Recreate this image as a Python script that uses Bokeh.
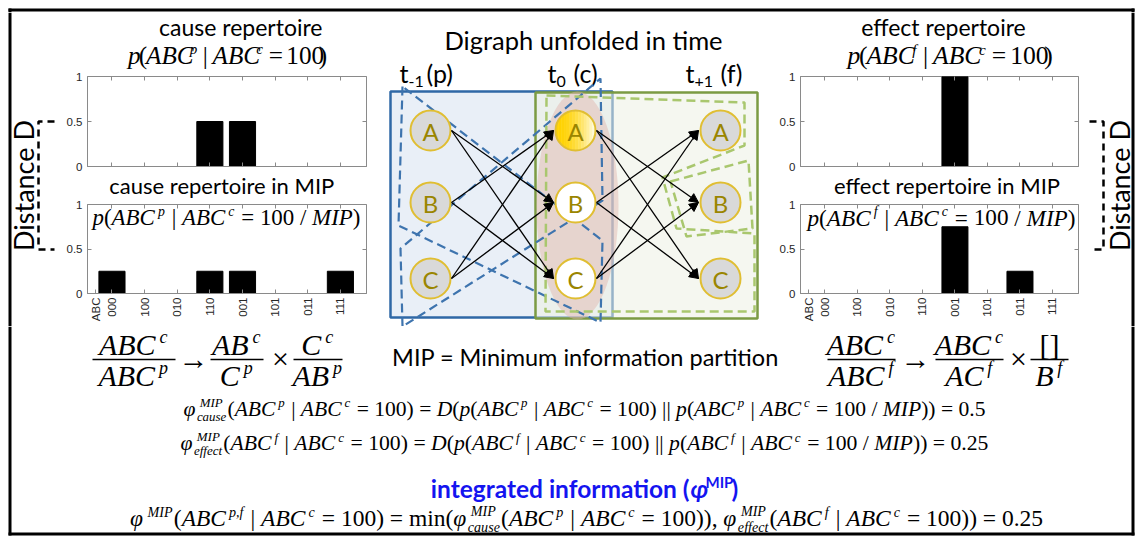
import math
import numpy as np
from bokeh.plotting import figure
from bokeh.models import Range1d, FixedTicker, LinearAxis, ColumnDataSource, Arrow, NormalHead
from bokeh.layouts import row, column
from bokeh.embed import file_html
from bokeh.resources import INLINE
from bokeh.core.properties import value

# ---------------- data ----------------
states = ["000", "100", "010", "110", "001", "101", "011", "111"]
state_header = "ABC"
cause_rep = [0, 0, 0, 0.5, 0.5, 0, 0, 0]
cause_rep_mip = [0.25, 0, 0, 0.25, 0.25, 0, 0, 0.25]
effect_rep = [0, 0, 0, 0, 1, 0, 0, 0]
effect_rep_mip = [0, 0, 0, 0, 0.75, 0, 0.25, 0]
prob_ticks = [0, 0.5, 1]
node_names = ["A", "B", "C"]
edges = [("A", "B"), ("A", "C"), ("B", "A"), ("B", "C"), ("C", "A"), ("C", "B")]
phi_cause = "0.5"
phi_effect = "0.25"
phi_mip = "0.25"

positions = list(range(1, len(states) + 1))

# ---------------- style ----------------
SANS = "Lato"
SERIF = "Liberation Serif"
TICK = "Liberation Sans"
GREY_AX = "#8a8a8a"
BLUE_LINE, BLUE_FILL, BLUE_DASH = "#2f68a6", "#e9eff7", "#3e74ae"
GREEN_LINE, GREEN_FILL, GREEN_DASH = "#7b9b43", "#edf1e4", "#a9c76e"
PINK = "#dfb1aa"
NODE_GREY, NODE_EDGE, NODE_TEXT = "#d9d9d9", "#e0be32", "#9a8500"

BX0, BX1, BY0, BY1 = 8, 1134, 8, 535
BT = 3
XLO, XHI = 0.25, 8.8
MID = 0.3   # distance from alphabetic baseline to the middle of the em box, in em

W_TOTAL, H_TOTAL = 1136, 536
TOP_Y0 = 12
TOP_H = 326


# ---------------- helpers ----------------
def canvas(x0, x1, y0, y1):
    p = figure(width=x1 - x0, height=y1 - y0, x_range=Range1d(x0, x1), y_range=Range1d(y1, y0),
               output_backend="svg", toolbar_location=None, min_border=0, title=None,
               x_axis_location=None, y_axis_location=None, outline_line_color=None)
    p.grid.visible = False
    p._box = (x0, x1, y0, y1)
    return p


def borders(p, sides):
    x0, x1, y0, y1 = p._box
    rects = []
    for s in sides:
        if s == "top":
            rects.append((BX0, BX1, BY0, BY0 + BT))
        if s == "bottom":
            rects.append((BX0, BX1, BY1 - BT, BY1))
        if s == "left":
            rects.append((BX0, BX0 + BT, BY0, BY1))
        if s == "right":
            rects.append((BX1 - BT, BX1, BY0, BY1))
    for l, r, t, b in rects:
        l, r = max(l, x0), min(r, x1)
        t, b = max(t, y0), min(b, y1)
        if r > l and b > t:
            p.quad(left=[l], right=[r], top=[t], bottom=[b], fill_color="black", line_color=None)


def txt(p, x, y, s, size, font=SANS, style="normal", color="black", align="center", angle=0.0):
    # (x, y) is the alphabetic baseline anchor; drawn with a middle baseline
    if angle:
        x = x - MID * size
    else:
        y = y - MID * size
    p.text(x=[x], y=[y], text=[s], text_font=value(font), text_font_size=value(f"{size}px"),
           text_font_style=style, text_color=color, text_align=align, text_baseline="middle",
           angle=angle)


W_ROMAN = {' ': 250, '(': 333, ')': 333, '=': 564, '|': 200, '/': 278, '.': 250, ',': 250,
           '[': 333, ']': 333, 'm': 778, 'i': 278, 'n': 500, '\u00d7': 564, '\u2192': 1000}
for d in "0123456789":
    W_ROMAN[d] = 500
W_ITALIC = {'A': 611, 'B': 611, 'C': 667, 'D': 722, 'I': 333, 'M': 833, 'P': 611, 'p': 500,
            'c': 444, 'f': 278, 'a': 500, 'u': 500, 's': 389, 'e': 444, 't': 278, 'i': 278,
            'm': 722, 'n': 500, 'o': 500, ',': 250, ' ': 250, '\u03c6': 620}


def tw(s, italic):
    table = W_ITALIC if italic else W_ROMAN
    return sum(table.get(ch, 500) for ch in s) / 1000.0


SCRIPT = 0.6
SUP_GAP = 0.13


def layout_tokens(tokens):
    items = []

    def add_words(s, italic, scale, dy, x):
        pos, word, start = x, "", x
        for ch in s:
            if ch == " ":
                if word:
                    items.append((start, word, italic, scale, dy))
                    word = ""
                pos += tw(" ", italic) * scale
            else:
                if not word:
                    start = pos
                word += ch
                pos += tw(ch, italic) * scale
        if word:
            items.append((start, word, italic, scale, dy))
        return pos

    x = 0.0
    for kind, t in tokens:
        if kind == "r":
            x = add_words(t, False, 1.0, 0.0, x)
        elif kind == "i":
            x = add_words(t, True, 1.0, 0.0, x)
        elif kind == "sup":
            x = add_words(t, True, SCRIPT, -0.38, x + SUP_GAP) + 0.05
        elif kind == "ss":
            a = add_words(t[0], True, SCRIPT, -0.42, x + SUP_GAP)
            b = add_words(t[1], True, SCRIPT, 0.24, x)
            x = max(a, b) + 0.05
    return items, x


def draw_formula(p, tokens, x, y, size=None, width=None, align="center", color="black",
                 fx=None, fy=None):
    items, w = layout_tokens(tokens)
    if size is None:
        size = width / w
    if align == "center":
        x0 = x - w * size / 2
    elif align == "left":
        x0 = x
    else:
        x0 = x - w * size
    fx = fx or (lambda v: v)
    fy = fy or (lambda v: v)
    groups = {}
    for off, word, italic, scale, dy in items:
        g = groups.setdefault((italic, scale), {"x": [], "y": [], "text": []})
        g["x"].append(fx(x0 + off * size))
        g["y"].append(fy(y + dy * size - MID * size * scale))
        g["text"].append(word)
    for (italic, scale), g in groups.items():
        p.text(x="x", y="y", text="text", source=ColumnDataSource(g), text_font=value(SERIF),
               text_font_size=value(f"{size * scale:.1f}px"),
               text_font_style="italic" if italic else "normal", text_color=color,
               text_align="left", text_baseline="middle")
    return size


def draw_fraction(p, num, den, xl, xr, y_line, size):
    xc = (xl + xr) / 2
    draw_formula(p, num, xc, y_line - 0.2 * size, size=size)
    draw_formula(p, den, xc, y_line + 0.84 * size, size=size)
    p.segment(x0=[xl], y0=[y_line], x1=[xr], y1=[y_line], line_color="black", line_width=1.6)


def rep(x, mip=False):
    toks = [("i", "p"), ("r", "("), ("i", "ABC"), ("sup", x), ("r", " | "), ("i", "ABC"),
            ("sup", "c"), ("r", " = 100")]
    if mip:
        toks += [("r", " / "), ("i", "MIP")]
    toks += [("r", ")")]
    return toks


def style_axis(ax):
    ax.axis_line_color = GREY_AX
    ax.major_tick_line_color = GREY_AX
    ax.major_tick_in = 4
    ax.major_tick_out = 0
    ax.minor_tick_line_color = None
    ax.major_label_text_font = TICK
    ax.major_label_text_font_size = "11.5px"
    ax.major_label_text_color = "#262626"


def hide_labels(ax):
    ax.major_label_text_font_size = "1px"
    ax.major_label_text_color = None
    ax.major_label_standoff = 0


def bar_chart(vals, fig_box, frame_box, with_labels):
    fx0, fx1, fy0, fy1 = fig_box
    rx0, rx1, ry0, ry1 = frame_box
    p = figure(width=fx1 - fx0, height=fy1 - fy0, x_range=Range1d(XLO, XHI), y_range=Range1d(0, 1),
               output_backend="svg", toolbar_location=None, title=None,
               min_border_left=rx0 - fx0, min_border_right=fx1 - rx1,
               min_border_top=ry0 - fy0, min_border_bottom=fy1 - ry1,
               outline_line_color=GREY_AX)
    p.grid.visible = False
    p.vbar(x=positions, top=vals, width=0.8, fill_color="black", line_color="black")
    xa = p.xaxis[0]
    style_axis(xa)
    if with_labels:
        xa.ticker = FixedTicker(ticks=[0.5] + positions)
        ov = {0.5: state_header}
        for pos, s in zip(positions, states):
            ov[pos] = s
        xa.major_label_overrides = ov
        xa.major_label_orientation = math.pi / 2
        xa.major_label_standoff = 4
    else:
        xa.ticker = FixedTicker(ticks=positions)
        hide_labels(xa)
    ya = p.yaxis[0]
    style_axis(ya)
    ya.ticker = FixedTicker(ticks=prob_ticks)
    ya.major_label_standoff = 5
    top_ax = LinearAxis(ticker=FixedTicker(ticks=positions))
    style_axis(top_ax)
    hide_labels(top_ax)
    right_ax = LinearAxis(ticker=FixedTicker(ticks=prob_ticks))
    style_axis(right_ax)
    hide_labels(right_ax)
    right_ax.axis_line_color = None
    top_ax.axis_line_color = None
    p.add_layout(top_ax, "above")
    p.add_layout(right_ax, "right")
    return p


def frame_maps(frame_box):
    rx0, rx1, ry0, ry1 = frame_box
    fx = lambda v: XLO + (v - rx0) / (rx1 - rx0) * (XHI - XLO)
    fy = lambda v: (ry1 - v) / (ry1 - ry0)
    return fx, fy


# ---------------- top border strip ----------------
topbar = canvas(0, W_TOTAL, 0, TOP_Y0)
borders(topbar, ["top", "left", "right"])

# ---------------- left panel ----------------
titleL = canvas(56, 380, TOP_Y0, 71)
txt(titleL, 234, 33, "cause repertoire", 23)
draw_formula(titleL, rep("p"), 218, 63, width=230)

frame1L = (87, 366, 76, 166)
bar1L = bar_chart(cause_rep, (56, 380, 71, 173), frame1L, False)

textL = canvas(56, 380, 173, 198)
txt(textL, 212, 192, "cause repertoire in MIP", 22)

frame2L = (87, 366, 204, 293)
bar2L = bar_chart(cause_rep_mip, (56, 380, 198, TOP_H), frame2L, True)
fx, fy = frame_maps(frame2L)
draw_formula(bar2L, rep("p", True), 226, 224, width=268, fx=fx, fy=fy)

# ---------------- right panel ----------------
titleR = canvas(772, 1085, TOP_Y0, 71)
txt(titleR, 933, 33, "effect repertoire", 23)
draw_formula(titleR, rep("f"), 940, 63, width=230)

frame1R = (800, 1078, 76, 166)
bar1R = bar_chart(effect_rep, (772, 1085, 71, 173), frame1R, False)

textR = canvas(772, 1085, 173, 198)
txt(textR, 937, 192, "effect repertoire in MIP", 22)

frame2R = (800, 1078, 204, 293)
bar2R = bar_chart(effect_rep_mip, (772, 1085, 198, TOP_H), frame2R, True)
fx, fy = frame_maps(frame2R)
draw_formula(bar2R, rep("f", True), 941, 224, width=268, fx=fx, fy=fy)

# ---------------- distance strips ----------------
stripL = canvas(0, 56, TOP_Y0, TOP_H)
borders(stripL, ["left"])
txt(stripL, 31, 185, "Distance D", 27, angle=math.pi / 2)
stripL.line(x=[54, 38, 38, 54], y=[121, 121, 249, 249], line_color="black", line_width=2.5,
            line_dash="7 5")

stripR = canvas(1085, W_TOTAL, TOP_Y0, TOP_H)
borders(stripR, ["right"])
txt(stripR, 1127, 185, "Distance D", 27, angle=math.pi / 2)
stripR.line(x=[1089, 1103, 1103, 1089], y=[121, 121, 249, 249], line_color="black",
            line_width=2.5, line_dash="7 5")

# ---------------- center diagram ----------------
diag = canvas(380, 772, TOP_Y0, TOP_H)
txt(diag, 583, 47, "Digraph unfolded in time", 25.5)
for (tx, sx, px), (base, sub, par) in zip([(399, 408, 426), (547, 556, 573), (685, 694, 720)],
                                         [("t", "-1", "(p)"), ("t", "0", "(c)"), ("t", "+1", "(f)")]):
    txt(diag, tx, 80, base, 25, align="left")
    txt(diag, sx, 86, sub, 16, align="left")
    txt(diag, px, 80, par, 25, align="left")

diag.quad(left=[390], right=[612], top=[91], bottom=[317], fill_color=BLUE_FILL,
          line_color=BLUE_LINE, line_width=2.5)
diag.quad(left=[535], right=[757], top=[92], bottom=[318], fill_color=GREEN_FILL, fill_alpha=0.55,
          line_color=GREEN_LINE, line_width=2.5)
diag.ellipse(x=[577], y=[205], width=[82], height=[228], fill_color=PINK, fill_alpha=0.45,
             line_color=None)

blue_polys_x = [[402, 398, 600, 602], [402, 400, 600, 602]]
blue_polys_y = [[86, 225, 322, 240], [326, 248, 78, 200]]
diag.patches(xs=blue_polys_x, ys=blue_polys_y, fill_color=None, line_color=BLUE_DASH,
             line_width=2.2, line_dash="9 5")
green_polys_x = [[546, 744, 744, 662, 676, 754, 754, 545], [670, 748, 752, 686]]
green_polys_y = [[95, 102, 145, 177, 228, 233, 311, 311], [181, 160, 228, 236]]
diag.patches(xs=green_polys_x, ys=green_polys_y, fill_color=None, line_color=GREEN_DASH,
             line_width=2.5, line_dash="9 5")

LX = {"p": 430, "c": 575, "f": 720}
RY = {"A": 130, "B": 202, "C": 278}
R = 20
arr = {"x0": [], "y0": [], "x1": [], "y1": []}
for a, b in [("p", "c"), ("c", "f")]:
    for s, t in edges:
        arr["x0"].append(LX[a] + R + 1)
        arr["y0"].append(RY[s])
        arr["x1"].append(LX[b] - R - 2)
        arr["y1"].append(RY[t])
diag.add_layout(Arrow(end=NormalHead(size=9, fill_color="black", line_color="black"),
                      x_start="x0", y_start="y0", x_end="x1", y_end="y1",
                      source=ColumnDataSource(arr), line_color="black", line_width=1.3))

nx, ny, nfill = [], [], []
for layer in ["p", "c", "f"]:
    for n in node_names:
        nx.append(LX[layer])
        ny.append(RY[n])
        nfill.append("white" if layer == "c" else NODE_GREY)
diag.circle(x=nx, y=ny, radius=R, fill_color=nfill, line_color=None)

# gradient fill of the current-state node A
nsl = 14
cx, cy = LX["c"], RY["A"]
edges_x = np.linspace(cx - R, cx + R, nsl + 1)
gx, gy, gc = [], [], []
for i, (a, b) in enumerate(zip(edges_x[:-1], edges_x[1:])):
    xx = np.linspace(a, b, 8)
    h = np.sqrt(np.clip(R ** 2 - (xx - cx) ** 2, 0, None))
    gx.append(list(xx) + list(xx[::-1]))
    gy.append(list(cy - h) + list((cy + h)[::-1]))
    t = (i / (nsl - 1)) ** 1.8
    gc.append("#%02x%02x%02x" % (255, int(210 + 40 * t), int(0 + 215 * t)))
diag.patches(xs=gx, ys=gy, fill_color=gc, line_color=gc, line_width=0.6)
diag.circle(x=nx, y=ny, radius=R, fill_color=None, line_color=NODE_EDGE, line_width=2)
diag.text(x=nx, y=[v + 1 for v in ny], text=node_names * 3, text_font=value(SANS),
          text_font_size=value("24px"), text_color=NODE_TEXT, text_align="center",
          text_baseline="middle")

# ---------------- bottom band ----------------
bottom = canvas(0, W_TOTAL, TOP_H, H_TOTAL)
borders(bottom, ["left", "right", "bottom"])
FS = 30
YL = 359
draw_fraction(bottom, [("i", "ABC"), ("sup", "c")], [("i", "ABC"), ("sup", "p")], 92, 175, YL, FS)
draw_formula(bottom, [("r", "\u2192")], 193, YL + 8, size=FS)
draw_fraction(bottom, [("i", "AB"), ("sup", "c")], [("i", "C"), ("sup", "p")], 210, 263, YL, FS)
draw_formula(bottom, [("r", "\u00d7")], 280, YL + 8, size=FS)
draw_fraction(bottom, [("i", "C"), ("sup", "c")], [("i", "AB"), ("sup", "p")], 293, 342, YL, FS)

draw_fraction(bottom, [("i", "ABC"), ("sup", "c")], [("i", "ABC"), ("sup", "f")], 827, 895, YL, FS)
draw_formula(bottom, [("r", "\u2192")], 915, YL + 8, size=FS)
draw_fraction(bottom, [("i", "ABC"), ("sup", "c")], [("i", "AC"), ("sup", "f")], 935, 1003, YL, FS)
draw_formula(bottom, [("r", "\u00d7")], 1018, YL + 8, size=FS)
draw_fraction(bottom, [("r", "[]")], [("i", "B"), ("sup", "f")], 1030, 1068, YL, FS)

txt(bottom, 585, 364, "MIP = Minimum information partition", 23.5)

line1 = ([("i", "\u03c6"), ("ss", ("MIP", "cause")), ("r", "("), ("i", "ABC"), ("sup", "p"),
          ("r", " | "), ("i", "ABC"), ("sup", "c"), ("r", " = 100) = "), ("i", "D"), ("r", "(")]
         + rep("p") + [("r", " || ")] + rep("p", True) + [("r", ") = " + phi_cause)])
line2 = ([("i", "\u03c6"), ("ss", ("MIP", "effect")), ("r", "("), ("i", "ABC"), ("sup", "f"),
          ("r", " | "), ("i", "ABC"), ("sup", "c"), ("r", " = 100) = "), ("i", "D"), ("r", "(")]
         + rep("f") + [("r", " || ")] + rep("f", True) + [("r", ") = " + phi_effect)])
line4 = [("i", "\u03c6"), ("sup", "MIP"), ("r", "("), ("i", "ABC"), ("sup", "p,f"), ("r", " | "),
         ("i", "ABC"), ("sup", "c"), ("r", " = 100) = min("), ("i", "\u03c6"),
         ("ss", ("MIP", "cause")), ("r", "("), ("i", "ABC"), ("sup", "p"), ("r", " | "),
         ("i", "ABC"), ("sup", "c"), ("r", " = 100)), "), ("i", "\u03c6"),
         ("ss", ("MIP", "effect")), ("r", "("), ("i", "ABC"), ("sup", "f"), ("r", " | "),
         ("i", "ABC"), ("sup", "c"), ("r", " = 100)) = " + phi_mip)]
draw_formula(bottom, line1, 584, 415, width=802)
draw_formula(bottom, line2, 584, 449, width=808)
draw_formula(bottom, line4, 586, 525, width=913)

BLUE_TXT = "#1414f0"
txt(bottom, 689, 495, "integrated information (", 24.5, style="bold", color=BLUE_TXT, align="right")
txt(bottom, 690, 495, "\u03c6", 24.5, style="bold italic", color=BLUE_TXT, align="left")
txt(bottom, 705, 486, "MIP", 15, style="bold", color=BLUE_TXT, align="left")
txt(bottom, 731, 495, ")", 24.5, style="bold", color=BLUE_TXT, align="left")

# ---------------- assemble ----------------
left_col = column(titleL, bar1L, textL, bar2L, spacing=0)
right_col = column(titleR, bar1R, textR, bar2R, spacing=0)
top = row(stripL, left_col, diag, right_col, stripR, spacing=0)
page = column(topbar, top, bottom, spacing=0)

with open("out.html", "w") as f:
    f.write(file_html(page, INLINE, "Integrated information"))
